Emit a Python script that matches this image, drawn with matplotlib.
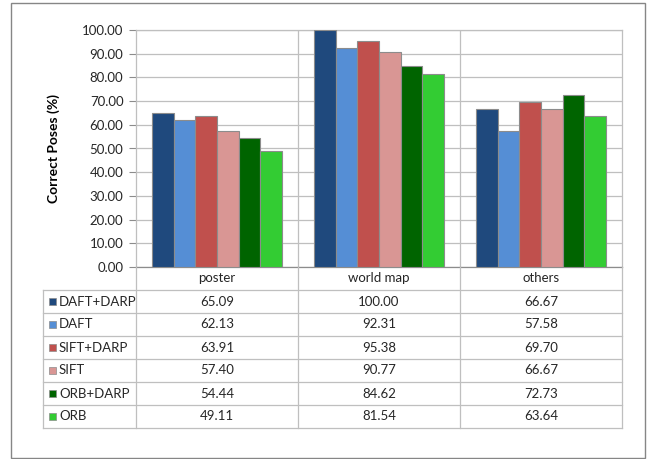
import matplotlib
matplotlib.use("Agg")
import matplotlib.pyplot as plt
import numpy as np
from matplotlib.patches import Rectangle

plt.rcParams['font.family'] = ['Lato', 'DejaVu Sans']

categories = ['poster', 'world map', 'others']
methods = ['DAFT+DARP', 'DAFT', 'SIFT+DARP', 'SIFT', 'ORB+DARP', 'ORB']
daft_darp = [65.09, 100.00, 66.67]
daft = [62.13, 92.31, 57.58]
sift_darp = [63.91, 95.38, 69.70]
sift = [57.40, 90.77, 66.67]
orb_darp = [54.44, 84.62, 72.73]
orb = [49.11, 81.54, 63.64]
series = [daft_darp, daft, sift_darp, sift, orb_darp, orb]
colors = ['#1F497D', '#558ED5', '#C0504D', '#D99694', '#006400', '#33CC33']
yticks = np.arange(0, 101, 10)

W, H = 648, 459
grid_c = '#BFBFBF'
edge_c = '#8C8C8C'
text_c = '#262626'

fig = plt.figure(figsize=(W / 100, H / 100), dpi=100)

# pixel layout of the plot area / table
px_l, px_r, px_t, px_b = 136, 622, 30, 267
row_h = 23
leg_l = 43

ax = fig.add_axes([px_l / W, 1 - px_b / H, (px_r - px_l) / W, (px_b - px_t) / H])
n = len(series)
width = 0.8 / n
x = np.arange(len(categories))
for i, (vals, c) in enumerate(zip(series, colors)):
    ax.bar(x - 0.4 + width * (i + 0.5), vals, width, color=c,
           edgecolor=edge_c, linewidth=0.8, zorder=3)

ax.set_xlim(-0.5, len(categories) - 0.5)
ax.set_ylim(0, 100)
ax.set_yticks(yticks)
ax.set_yticklabels([f'{v:.2f}' for v in yticks], fontsize=9.5, color=text_c)
ax.tick_params(axis='y', length=5, color=edge_c, pad=4)
ax.set_xticks([])
ax.grid(axis='y', color=grid_c, linewidth=0.9, zorder=0)
for xv in x[:-1] + 0.5:
    ax.axvline(xv, color=grid_c, linewidth=0.9, zorder=1)
for s in ax.spines.values():
    s.set_color(grid_c)
    s.set_linewidth(0.9)
ax.spines['bottom'].set_color(edge_c)
ax.set_ylabel('Correct Poses (%)', fontsize=10, fontweight='bold',
              color='black', labelpad=16)

# overlay in pixel coordinates for the data table and frame
ov = fig.add_axes([0, 0, 1, 1], zorder=-1)
ov.set_xlim(0, W)
ov.set_ylim(H, 0)
ov.axis('off')
ov.add_patch(Rectangle((11, 3), 634, 455, fill=False, edgecolor='#868686', linewidth=1))

ov2 = fig.add_axes([0, 0, 1, 1], zorder=5)
ov2.set_xlim(0, W)
ov2.set_ylim(H, 0)
ov2.axis('off')
ov2.patch.set_alpha(0)

col_edges = [px_l + (px_r - px_l) * k / len(categories) for k in range(len(categories) + 1)]
tbl_bot = px_b + row_h * (n + 1)
for xe in col_edges:
    ov2.plot([xe, xe], [px_b, tbl_bot], color=grid_c, lw=0.9)
ov2.plot([leg_l, leg_l], [px_b + row_h, tbl_bot], color=grid_c, lw=0.9)
for r in range(1, n + 2):
    yy = px_b + row_h * r
    ov2.plot([leg_l, px_r], [yy, yy], color=grid_c, lw=0.9)

for k, cat in enumerate(categories):
    cx = (col_edges[k] + col_edges[k + 1]) / 2
    ov2.text(cx, px_b + row_h / 2, cat, ha='center', va='center', fontsize=9.5, color=text_c)

for i, (name, vals, c) in enumerate(zip(methods, series, colors)):
    cy = px_b + row_h * (i + 1.5)
    ov2.add_patch(Rectangle((48.5, cy - 3.5), 7, 7, facecolor=c, edgecolor=edge_c, lw=0.5))
    ov2.text(59, cy, name, ha='left', va='center', fontsize=9.5, color=text_c)
    for k, v in enumerate(vals):
        cx = (col_edges[k] + col_edges[k + 1]) / 2
        ov2.text(cx, cy, f'{v:.2f}', ha='center', va='center', fontsize=9.5, color=text_c)

fig.savefig('out.png', dpi=100)
